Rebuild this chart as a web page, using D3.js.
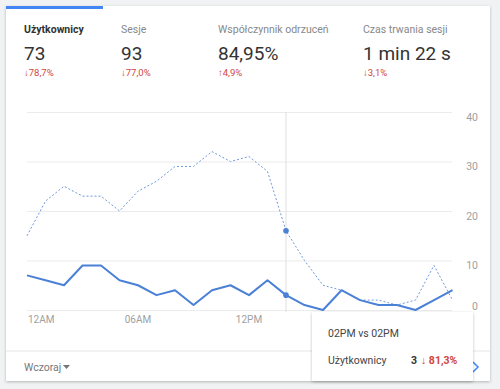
<!DOCTYPE html>
<html>
<head>
<meta charset="utf-8">
<script src="https://cdn.jsdelivr.net/npm/d3@7"></script>
<style>
  body { margin: 0; background: #f1f2f3; font-family: Roboto, "Noto Sans", sans-serif; }
  svg { display: block; }
</style>
</head>
<body>
<svg width="500" height="389"></svg>
<script>
// hours of the day, current period (Wczoraj) and the comparison period
const hours = d3.range(24);
const current = [7, 6, 5, 9, 9, 6, 5, 3, 4, 1, 4, 5, 3, 6, 3, 1, 0, 4, 2, 1, 1, 0, 2, 4];
const previous = [15, 22, 25, 23, 23, 20, 24, 26, 29, 29, 32, 30, 31, 28, 16, 10, 5, 4, 2, 2, 1, 2, 9, 2];
const xLabels = [[0, '12AM'], [6, '06AM'], [12, '12PM']];
const yTicks = [0, 10, 20, 30, 40];

const metrics = [
  { name: 'Użytkownicy', value: '73', change: '↓78,7%', active: true },
  { name: 'Sesje', value: '93', change: '↓77,0%' },
  { name: 'Współczynnik odrzuceń', value: '84,95%', change: '↑4,9%' },
  { name: 'Czas trwania sesji', value: '1 min 22 s', change: '↓3,1%' }
];
const metricX = [24, 121, 218, 363];
const hoverIndex = 14;

const svg = d3.select('svg');

const defs = svg.append('defs');
const sh = defs.append('filter').attr('id', 'shadow').attr('x', '-10%').attr('y', '-10%')
  .attr('width', '120%').attr('height', '130%');
sh.append('feDropShadow').attr('dx', 0).attr('dy', 1).attr('stdDeviation', 1.5)
  .attr('flood-color', '#000').attr('flood-opacity', 0.25);

// card
svg.append('rect').attr('x', 6).attr('y', 6).attr('width', 484).attr('height', 375)
  .attr('fill', '#fff').attr('filter', 'url(#shadow)');
svg.append('rect').attr('x', 6).attr('y', 6).attr('width', 97).attr('height', 3).attr('fill', '#4285f4');

// header metrics
const head = svg.append('g');
metrics.forEach((m, i) => {
  const g = head.append('g').attr('transform', `translate(${metricX[i]},0)`);
  g.append('text').attr('y', 33).text(m.name)
    .attr('font-size', 10.5).attr('font-weight', m.active ? 700 : 400)
    .attr('fill', m.active ? '#333' : '#888');
  g.append('text').attr('y', 60).text(m.value)
    .attr('font-size', 19).attr('fill', '#333');
  g.append('text').attr('y', 76).text(m.change)
    .attr('font-size', 9.5).attr('fill', '#d0463e');
});

// chart
const x = d3.scaleLinear().domain([0, 23]).range([27, 452.5]);
const y = d3.scaleLinear().domain([0, 40]).range([310, 112]);

svg.append('g').attr('transform', 'translate(27,0)')
  .call(d3.axisRight(y).tickValues(yTicks).tickSize(425).tickFormat(''))
  .call(g => g.select('.domain').remove())
  .call(g => g.selectAll('line').attr('stroke', '#ebebeb'));

svg.append('g').attr('transform', 'translate(478,0)')
  .call(d3.axisLeft(y).tickValues(yTicks).tickSize(0).tickPadding(0))
  .call(g => g.select('.domain').remove())
  .call(g => g.selectAll('text')
    .attr('font-family', 'Roboto, sans-serif').attr('font-size', 10.5).attr('fill', '#a0a0a0')
    .attr('dy', d => d === 0 ? '-0.05em' : '0.8em'));

svg.append('g').selectAll('text').data(xLabels).join('text')
  .attr('x', d => d[0] === 0 ? x(d[0]) + 1 : x(d[0]))
  .attr('y', 323)
  .attr('text-anchor', d => d[0] === 0 ? 'start' : 'middle')
  .attr('font-size', 10).attr('fill', '#a0a0a0')
  .text(d => d[1]);

// hover line
svg.append('line').attr('x1', x(hoverIndex)).attr('x2', x(hoverIndex))
  .attr('y1', 112).attr('y2', 312).attr('stroke', '#e0e0e0');

const line = d3.line().x((d, i) => x(hours[i])).y(d => y(d));

svg.append('path').datum(previous).attr('d', line)
  .attr('fill', 'none').attr('stroke', '#6f98dc').attr('stroke-width', 1)
  .attr('stroke-dasharray', '2,2');
svg.append('path').datum(current).attr('d', line)
  .attr('fill', 'none').attr('stroke', '#4a80d6').attr('stroke-width', 2)
  .attr('stroke-linejoin', 'round');

svg.selectAll('circle.hover').data([current[hoverIndex], previous[hoverIndex]]).join('circle')
  .attr('cx', x(hoverIndex)).attr('cy', d => y(d)).attr('r', 2.8).attr('fill', '#4a80d6');

// footer
svg.append('line').attr('x1', 6).attr('x2', 490).attr('y1', 351).attr('y2', 351).attr('stroke', '#e6e6e6');
svg.append('text').attr('x', 24).attr('y', 371).text('Wczoraj')
  .attr('font-size', 10.5).attr('fill', '#777');
svg.append('path').attr('d', 'M63,365 L70,365 L66.5,369 Z').attr('fill', '#777');
svg.append('path').attr('d', 'M473,362 L478,367 L473,372').attr('fill', 'none')
  .attr('stroke', '#4285f4').attr('stroke-width', 1.5);

// tooltip
const tip = svg.append('g').attr('transform', 'translate(312,312)');
tip.append('rect').attr('width', 161).attr('height', 69).attr('fill', '#fff')
  .attr('filter', 'url(#shadow)');
tip.append('text').attr('x', 16).attr('y', 25).text('02PM vs 02PM')
  .attr('font-size', 10.5).attr('fill', '#444');
tip.append('text').attr('x', 16).attr('y', 52).text('Użytkownicy')
  .attr('font-size', 10.5).attr('fill', '#444');
tip.append('text').attr('x', 99).attr('y', 52).text(current[hoverIndex])
  .attr('font-size', 10.5).attr('font-weight', 700).attr('fill', '#333');
tip.append('text').attr('x', 109).attr('y', 52).text('↓ 81,3%')
  .attr('font-size', 10.5).attr('font-weight', 700).attr('fill', '#d0463e');
</script>
</body>
</html>
